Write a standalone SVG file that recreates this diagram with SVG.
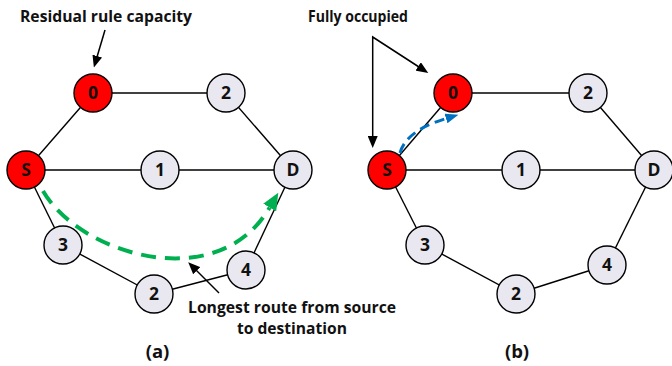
<svg xmlns="http://www.w3.org/2000/svg" width="672" height="366" viewBox="0 0 672 366">
<style>
.e{stroke:#000;stroke-width:1.4;fill:none}
.n{stroke:#000;stroke-width:1.4;fill:#E9E8F0}
.r{fill:#FF0000}
.t{font-family:"Open Sans",Lato,"Liberation Sans",sans-serif;font-weight:bold;fill:#111}
.nl{font-size:17.5px;text-anchor:middle}
.lb{font-size:16.5px}
.lc{font-size:15.5px}
.ar{stroke:#000;stroke-width:1.5;fill:none}
</style>
<defs>
<marker id="ka" viewBox="0 0 12 10" refX="1" refY="5" markerWidth="12" markerHeight="10" markerUnits="userSpaceOnUse" orient="auto-start-reverse"><path d="M0,0 L12,5 L0,10 z" fill="#000"/></marker>
<marker id="ga" viewBox="0 0 17 15" refX="0" refY="7.5" markerWidth="17" markerHeight="15" markerUnits="userSpaceOnUse" orient="auto"><path d="M0,0 L17,7.5 L0,15 z" fill="#00B050"/></marker>
<marker id="ba" viewBox="0 0 13 10" refX="0" refY="5" markerWidth="13" markerHeight="10" markerUnits="userSpaceOnUse" orient="auto"><path d="M0,0 L13,5 L0,10 z" fill="#0070C0"/></marker>
</defs>
<g id="connectors">
<line class="e" x1="26" y1="170" x2="93" y2="93"/>
<line class="e" x1="93" y1="93" x2="226" y2="93"/>
<line class="e" x1="226" y1="93" x2="293" y2="170"/>
<line class="e" x1="26" y1="170" x2="293" y2="170"/>
<line class="e" x1="26" y1="170" x2="63" y2="245"/>
<line class="e" x1="63" y1="245" x2="154" y2="294"/>
<line class="e" x1="154" y1="294" x2="246" y2="270"/>
<line class="e" x1="246" y1="270" x2="293" y2="170"/>
<line class="e" x1="387" y1="170" x2="453" y2="93"/>
<line class="e" x1="453" y1="93" x2="588" y2="93"/>
<line class="e" x1="588" y1="93" x2="654" y2="170"/>
<line class="e" x1="387" y1="170" x2="654" y2="170"/>
<line class="e" x1="387" y1="170" x2="425" y2="245"/>
<line class="e" x1="425" y1="245" x2="516" y2="294"/>
<line class="e" x1="516" y1="294" x2="607" y2="265"/>
<line class="e" x1="607" y1="265" x2="654" y2="170"/>
</g>
<g id="route-a">
<path d="M43,191 C80,255 218,296 269.7,207.5" fill="none" stroke="#00B050" stroke-width="4" stroke-dasharray="15 9" marker-end="url(#ga)"/>
</g>
<g id="route-b">
<path d="M400,153 C405,135 425,125 446,118.5" fill="none" stroke="#0070C0" stroke-width="3" stroke-dasharray="10 6" marker-end="url(#ba)"/>
</g>
<g id="a-0"><circle class="n r" cx="93" cy="93" r="19"/><text class="t nl" x="93" y="99.3">0</text></g>
<g id="a-2t"><circle class="n" cx="226" cy="93" r="19"/><text class="t nl" x="226" y="99.3">2</text></g>
<g id="a-S"><circle class="n r" cx="26" cy="170" r="19"/><text class="t nl" x="26" y="176.3">S</text></g>
<g id="a-1"><circle class="n" cx="160" cy="170" r="19"/><text class="t nl" x="160" y="176.3">1</text></g>
<g id="a-D"><circle class="n" cx="293" cy="170" r="19"/><text class="t nl" x="293" y="176.3">D</text></g>
<g id="a-3"><circle class="n" cx="63" cy="245" r="19"/><text class="t nl" x="63" y="251.3">3</text></g>
<g id="a-2b"><circle class="n" cx="154" cy="294" r="19"/><text class="t nl" x="154" y="300.3">2</text></g>
<g id="a-4"><circle class="n" cx="246" cy="270" r="19"/><text class="t nl" x="246" y="276.3">4</text></g>
<g id="b-0"><circle class="n r" cx="453" cy="93" r="19"/><text class="t nl" x="453" y="99.3">0</text></g>
<g id="b-2t"><circle class="n" cx="588" cy="93" r="19"/><text class="t nl" x="588" y="99.3">2</text></g>
<g id="b-S"><circle class="n r" cx="387" cy="170" r="19"/><text class="t nl" x="387" y="176.3">S</text></g>
<g id="b-1"><circle class="n" cx="521" cy="170" r="19"/><text class="t nl" x="521" y="176.3">1</text></g>
<g id="b-D"><circle class="n" cx="654" cy="170" r="19"/><text class="t nl" x="654" y="176.3">D</text></g>
<g id="b-3"><circle class="n" cx="425" cy="245" r="19"/><text class="t nl" x="425" y="251.3">3</text></g>
<g id="b-2b"><circle class="n" cx="516" cy="294" r="19"/><text class="t nl" x="516" y="300.3">2</text></g>
<g id="b-4"><circle class="n" cx="607" cy="265" r="19"/><text class="t nl" x="607" y="271.3">4</text></g>
<g id="annotations">
<line class="ar" x1="105" y1="30" x2="97" y2="57" marker-end="url(#ka)"/>
<text class="t lb" x="20" y="22" textLength="172" lengthAdjust="spacingAndGlyphs">Residual rule capacity</text>
<path class="ar" d="M372.7,137 L372.7,37 L419,67" marker-start="url(#ka)" marker-end="url(#ka)"/>
<text class="t lb" x="308" y="22" textLength="100" lengthAdjust="spacingAndGlyphs">Fully occupied</text>
<line class="ar" x1="219" y1="293" x2="196" y2="270" marker-end="url(#ka)"/>
<text class="t lc" x="188" y="313" textLength="208" lengthAdjust="spacingAndGlyphs">Longest route from source</text>
<text class="t lc" x="237" y="334" textLength="110" lengthAdjust="spacingAndGlyphs">to destination</text>
<text class="t" x="157.5" y="358" font-size="18.5" text-anchor="middle">(a)</text>
<text class="t" x="517" y="358" font-size="18.5" text-anchor="middle">(b)</text>
</g>
</svg>
